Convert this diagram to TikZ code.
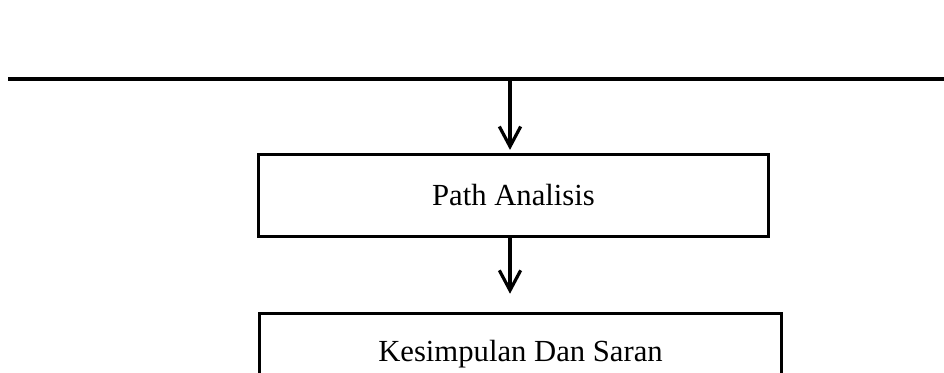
\documentclass[tikz,border=0pt]{standalone}
\usepackage{fontspec}
\setmainfont{Liberation Serif}
\usetikzlibrary{arrows.meta}
\begin{document}
\begin{tikzpicture}[x=0.75pt, y=-0.75pt,
	process/.style={rectangle, minimum height=61pt, text centered, draw=black, line width=2.4pt, font=\fontsize{23}{28}\selectfont},
	arrow/.style={line width=2.4pt,-{Straight Barb[length=15pt,width=16pt,line width=2.4pt]}}]
	
	\useasboundingbox (0,0) rectangle (944,373);
	
	\coordinate (lineL) at (8,79);
	\coordinate (lineR) at (944,79);
	\coordinate (split) at (510,79);
	\node (analisis) [process, minimum width=383pt] at (513.5,195.5) {Path Analisis};
	\node (saran) [process, minimum width=391pt] at (520.5,354) {Kesimpulan Dan Saran};
	
	\draw [line width=2.4pt] (lineL) -- (lineR);
	\draw [arrow, shorten >=2.5pt] (split) -- (analisis.north -| split);
	\draw [arrow, shorten >=13.5pt] (analisis.south -| split) -- (saran.north -| split);
\end{tikzpicture}
\end{document}
